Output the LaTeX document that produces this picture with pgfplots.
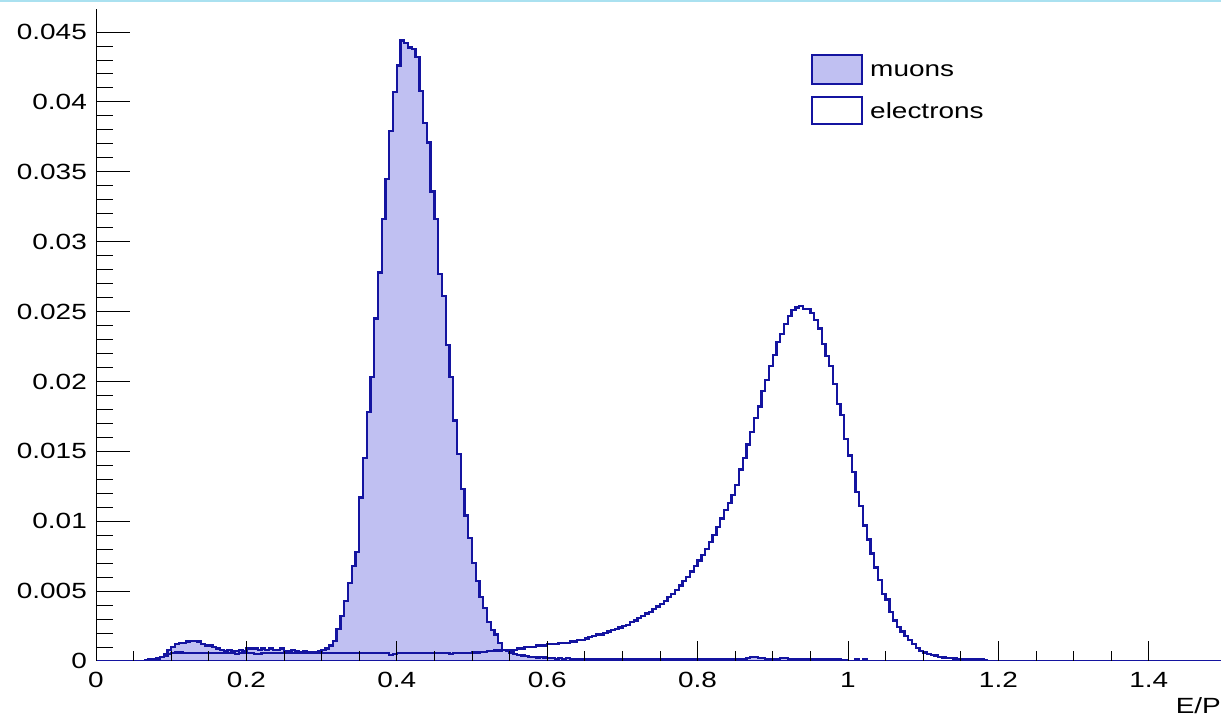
\documentclass[border=0pt]{standalone}
\usepackage{pgfplots}
\pgfplotsset{compat=1.18}
\usepackage{fontspec}
\setmainfont{Liberation Sans}[FakeStretch=1.27]
\definecolor{hline}{RGB}{20,20,160}
\definecolor{hfill}{RGB}{192,192,242}
\definecolor{topcyan}{RGB}{170,225,240}
\newcommand{\lblfont}{\fontsize{22}{24}\selectfont}
\begin{document}
\begin{tikzpicture}[x=1pt,y=1pt]
\useasboundingbox (0,0) rectangle (1221,717);
\fill[topcyan] (0,714.5) rectangle (1221,717);
\begin{axis}[
  at={(96pt,56pt)}, anchor=south west,
  scale only axis, width=1128pt, height=652pt,
  xmin=0, xmax=1.5, ymin=0, ymax=0.04665,
  axis x line*=bottom, axis y line*=left,
  axis line style={black, line width=1pt},
  tick align=inside,
  xtick=\empty,
  ytick={0,0.005,0.01,0.015,0.02,0.025,0.03,0.035,0.04,0.045},
  yticklabels={0,0.005,0.01,0.015,0.02,0.025,0.03,0.035,0.04,0.045},
  minor y tick num=4,
  major tick length=34pt, minor tick length=17pt,
  tick style={black, line width=1pt},
  /pgf/number format/assume math mode=true,
  yticklabel style={font=\lblfont, anchor=east, inner sep=0pt, xshift=-9pt},
]
\addplot[const plot, fill=hfill, draw=hline, line width=2.3pt] coordinates {
(0,0) (0.065,0.00003) (0.07,0.0001) (0.075,0.00015) (0.08,0.0002) (0.085,0.0003)
(0.09,0.0005) (0.095,0.0008) (0.10,0.0010) (0.105,0.0012) (0.11,0.0013) (0.115,0.0013)
(0.12,0.0014) (0.125,0.00145) (0.13,0.00145) (0.135,0.0014) (0.14,0.0012) (0.145,0.0011)
(0.15,0.0011) (0.155,0.0010) (0.16,0.0009) (0.165,0.0008) (0.17,0.0007) (0.175,0.0008)
(0.18,0.0007) (0.185,0.0007) (0.19,0.0008) (0.195,0.0007) (0.20,0.0009) (0.205,0.0009)
(0.21,0.0009) (0.215,0.0008) (0.22,0.0009) (0.225,0.0008) (0.23,0.0009) (0.235,0.0008)
(0.24,0.0008) (0.245,0.0009) (0.25,0.0007) (0.255,0.0007) (0.26,0.0008) (0.265,0.0007)
(0.27,0.0006) (0.275,0.0007) (0.28,0.0006) (0.285,0.0006) (0.29,0.0006) (0.295,0.0007)
(0.30,0.0008) (0.305,0.0009) (0.31,0.0011) (0.315,0.00145) (0.32,0.0023) (0.325,0.0032)
(0.33,0.0043) (0.335,0.0056) (0.34,0.0068) (0.345,0.0078) (0.35,0.0117) (0.355,0.0145)
(0.36,0.0178) (0.365,0.0203) (0.37,0.0245) (0.375,0.0278) (0.38,0.0316) (0.385,0.0345)
(0.39,0.0379) (0.395,0.0407) (0.40,0.0426) (0.405,0.0444) (0.41,0.0442) (0.415,0.0439)
(0.42,0.0438) (0.425,0.0432) (0.43,0.0408) (0.435,0.0385) (0.44,0.0371) (0.445,0.0336)
(0.45,0.0316) (0.455,0.0277) (0.46,0.0261) (0.465,0.0226) (0.47,0.0203) (0.475,0.0172)
(0.48,0.0148) (0.485,0.0123) (0.49,0.0104) (0.495,0.0088) (0.50,0.0070) (0.505,0.0057)
(0.51,0.0046) (0.515,0.0038) (0.52,0.0028) (0.525,0.0022) (0.53,0.0019) (0.535,0.0013)
(0.54,0.0008) (0.545,0.0007) (0.55,0.0006) (0.555,0.0005) (0.56,0.00045) (0.565,0.0004)
(0.57,0.00035) (0.575,0.0003) (0.585,0.00025) (0.59,0.0003) (0.595,0.00025) (0.60,0.0002)
(0.61,0.00015) (0.615,0.0002) (0.62,0.00015) (0.625,0.0002) (0.63,0.00015) (0.635,0.0001)
(0.64,0.00015) (0.645,0.0001) (0.665,0.00015) (0.67,0.0001) (0.68,0.00015) (0.685,0.0001)
(0.72,0.00015) (0.725,0.0001) (0.76,0.00015) (0.765,0.0001) (0.80,0.00015) (0.81,0.0001)
(0.84,0.00015) (0.845,0.0001) (0.865,0.0002) (0.87,0.0003) (0.88,0.0002) (0.89,0.00015)
(0.91,0.0002) (0.92,0.00015) (0.93,0.0001) (0.94,0.00015) (0.96,0.0001) (0.99,0.00005)
(1.0,0) (1.01,0.0001) (1.015,0) (1.02,0.0001) (1.025,0) (1.5,0)
} \closedcycle;
\addplot[const plot, draw=hline, line width=2.3pt] coordinates {
(0,0) (0.07,0.00005) (0.075,0.0001) (0.08,0.00015) (0.085,0.0003) (0.09,0.0004)
(0.095,0.0005) (0.10,0.00055) (0.105,0.0006) (0.115,0.00055) (0.185,0.0005) (0.19,0.00055)
(0.21,0.0005) (0.22,0.00055) (0.39,0.00045) (0.395,0.0005) (0.40,0.00055) (0.47,0.0005)
(0.475,0.00055) (0.50,0.0006) (0.51,0.00065) (0.52,0.0007) (0.53,0.00075) (0.54,0.0008)
(0.56,0.0009) (0.57,0.0010) (0.585,0.0011) (0.60,0.0012) (0.615,0.0013) (0.63,0.0014)
(0.64,0.0015) (0.65,0.0016) (0.655,0.0017) (0.66,0.0018) (0.665,0.0019) (0.675,0.0020)
(0.68,0.0021) (0.685,0.0022) (0.69,0.0023) (0.695,0.0024) (0.70,0.0025) (0.705,0.0026)
(0.71,0.0028) (0.715,0.0029) (0.72,0.0031) (0.725,0.0032) (0.73,0.0034) (0.735,0.0035)
(0.74,0.0037) (0.745,0.0039) (0.75,0.0041) (0.755,0.0043) (0.76,0.0046) (0.765,0.0048)
(0.77,0.0051) (0.775,0.0054) (0.78,0.0057) (0.785,0.0060) (0.79,0.0064) (0.795,0.0068)
(0.80,0.0072) (0.805,0.0076) (0.81,0.0080) (0.815,0.0085) (0.82,0.0090) (0.825,0.0096)
(0.83,0.0102) (0.835,0.0108) (0.84,0.0113) (0.845,0.0119) (0.85,0.0126) (0.855,0.0137)
(0.86,0.0145) (0.865,0.0155) (0.87,0.0164) (0.875,0.0174) (0.88,0.0182) (0.885,0.0193)
(0.89,0.0201) (0.895,0.0211) (0.90,0.0219) (0.905,0.0228) (0.91,0.0234) (0.915,0.0241)
(0.92,0.0247) (0.925,0.0251) (0.93,0.0253) (0.935,0.0254) (0.94,0.0252) (0.945,0.0252)
(0.95,0.0249) (0.955,0.0244) (0.96,0.0238) (0.965,0.0227) (0.97,0.0218) (0.975,0.0211)
(0.98,0.0198) (0.985,0.0184) (0.99,0.0176) (0.995,0.0159) (1.00,0.0147) (1.005,0.0135)
(1.01,0.0121) (1.015,0.0111) (1.02,0.0097) (1.025,0.0087) (1.03,0.0077) (1.035,0.0067)
(1.04,0.0058) (1.045,0.0048) (1.05,0.0044) (1.055,0.0035) (1.06,0.0029) (1.065,0.00245)
(1.07,0.0021) (1.075,0.0018) (1.08,0.0015) (1.085,0.0012) (1.09,0.00095) (1.095,0.00074)
(1.10,0.0006) (1.105,0.0005) (1.11,0.00045) (1.115,0.0004) (1.12,0.0003) (1.125,0.00025)
(1.13,0.0002) (1.14,0.00017) (1.145,0.00015) (1.15,0.00012) (1.18,0.00008) (1.185,0)
(1.5,0)
};
% legend
\draw[hline, fill=hfill, line width=1.5pt] (axis description cs:0.6348,0.9294) rectangle (axis description cs:0.6791,0.8850);
\draw[hline, fill=white, line width=1.5pt] (axis description cs:0.6348,0.8650) rectangle (axis description cs:0.6791,0.8236);
\node[anchor=base west, inner sep=0pt, font=\lblfont] at (axis description cs:0.6862,0.8957) {muons};
\node[anchor=base west, inner sep=0pt, font=\lblfont] at (axis description cs:0.6862,0.8313) {electrons};
\end{axis}
\begin{axis}[
  at={(96pt,56pt)}, anchor=south west,
  scale only axis, width=1128pt, height=652pt,
  xmin=0, xmax=1.5, ymin=0, ymax=0.04665,
  axis x line*=bottom, axis y line*=left,
  axis line style={draw=none},
  tick align=inside,
  ytick=\empty,
  xtick={0,0.2,0.4,0.6,0.8,1,1.2,1.4},
  xticklabels={0,0.2,0.4,0.6,0.8,1,1.2,1.4},
  minor x tick num=3,
  major tick length=20pt, minor tick length=10pt,
  tick style={black, line width=1pt},
  /pgf/number format/assume math mode=true,
  xticklabel style={font=\lblfont, anchor=north, inner sep=0pt, yshift=-11pt},
  xlabel={E/P},
  xlabel style={font=\lblfont, at={(axis description cs:1,0)}, anchor=north east, inner sep=0pt, yshift=-36pt, xshift=-3pt},
]
\addplot[draw=none] coordinates {(0,0) (1.5,0)};
\end{axis}
\end{tikzpicture}
\end{document}
